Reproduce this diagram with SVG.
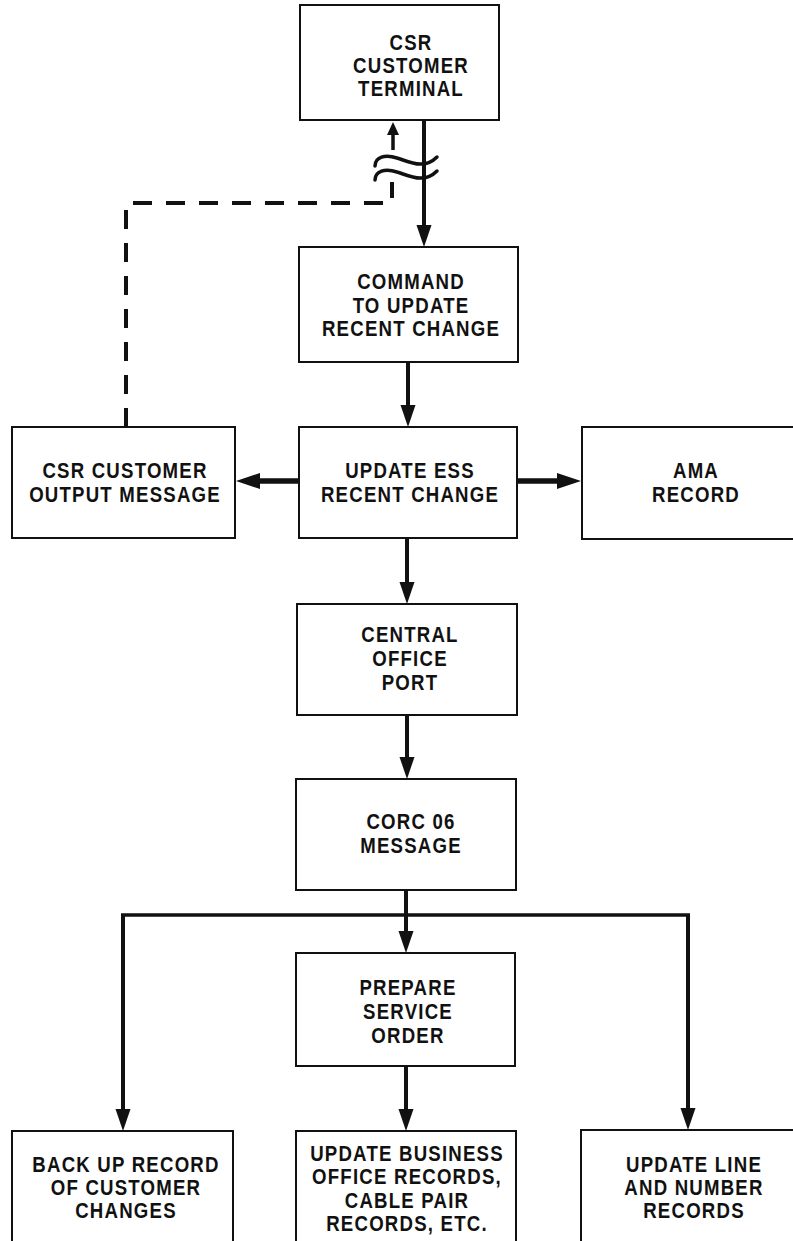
<svg xmlns="http://www.w3.org/2000/svg" width="793" height="1241" viewBox="0 0 793 1241">
  <defs>
    <style>
      .box { fill: #ffffff; stroke: #111111; stroke-width: 2; }
      .t { font-family: "Liberation Sans", Arial, sans-serif; font-weight: bold; font-size: 23px; letter-spacing: 1.5px; fill: #111111; text-anchor: middle; }
      .c { fill: none; stroke: #111111; stroke-width: 4; }
      .thick { fill: none; stroke: #111111; stroke-width: 5.5; }
      .bus { fill: none; stroke: #111111; stroke-width: 3.5; }
      .dash { fill: none; stroke: #111111; stroke-width: 4; stroke-dasharray: 19 14; }
      .wave { fill: none; stroke: #111111; stroke-width: 3.5; stroke-linecap: round; }
    </style>
    <marker id="arr" markerUnits="userSpaceOnUse" markerWidth="24" markerHeight="16" refX="1" refY="8" orient="auto" overflow="visible">
      <path d="M0,0.5 L22,8 L0,15.5 z" fill="#111111"/>
    </marker>
    <marker id="arrh" markerUnits="userSpaceOnUse" markerWidth="26" markerHeight="18" refX="1" refY="9" orient="auto" overflow="visible">
      <path d="M0,1 L24,9 L0,17 z" fill="#111111"/>
    </marker>
    <marker id="arrs" markerUnits="userSpaceOnUse" markerWidth="14" markerHeight="12" refX="1" refY="6" orient="auto" overflow="visible">
      <path d="M0,0 L13,6 L0,12 z" fill="#111111"/>
    </marker>
  </defs>
  <rect x="0" y="0" width="793" height="1241" fill="#ffffff"/>

  <g id="connectors">
    <line class="c" x1="424" y1="120" x2="424" y2="226" marker-end="url(#arr)"/>
    <line class="c" x1="408" y1="362" x2="408" y2="406" marker-end="url(#arr)"/>
    <line class="thick" x1="299" y1="481" x2="259" y2="481" marker-end="url(#arrh)"/>
    <line class="thick" x1="517" y1="481" x2="558" y2="481" marker-end="url(#arrh)"/>
    <line class="c" x1="407" y1="538" x2="407" y2="583" marker-end="url(#arr)"/>
    <line class="c" x1="407" y1="715" x2="407" y2="758" marker-end="url(#arr)"/>
    <line class="c" x1="406" y1="890" x2="406" y2="932" marker-end="url(#arr)"/>
    <line class="bus" x1="121" y1="915" x2="690" y2="915"/>
    <line class="c" x1="123" y1="915" x2="123" y2="1110" marker-end="url(#arr)"/>
    <line class="c" x1="688" y1="915" x2="688" y2="1109" marker-end="url(#arr)"/>
    <line class="c" x1="406" y1="1066" x2="406" y2="1110" marker-end="url(#arr)"/>
    <path class="dash" d="M126,427 V203 H392 V182"/>
    <line x1="393" y1="150" x2="393" y2="134" stroke="#111111" stroke-width="3.5" marker-end="url(#arrs)"/>
    <path class="wave" d="M375,166 C375,157 385,154 397,158 C410,162 424,170 437,157"/>
    <path class="wave" d="M375,180 C375,171 385,168 397,172 C410,176 424,184 437,171"/>
  </g>

  <g id="n-terminal">
    <rect class="box" x="300" y="5" width="199" height="115"/>
    <text class="t" transform="translate(411,50) scale(0.81,1)">CSR</text>
    <text class="t" transform="translate(411,73) scale(0.81,1)">CUSTOMER</text>
    <text class="t" transform="translate(411,96) scale(0.81,1)">TERMINAL</text>
  </g>
  <g id="n-command">
    <rect class="box" x="299" y="247" width="219" height="115"/>
    <text class="t" transform="translate(411,289) scale(0.81,1)">COMMAND</text>
    <text class="t" transform="translate(411,313) scale(0.81,1)">TO UPDATE</text>
    <text class="t" transform="translate(411,336) scale(0.81,1)">RECENT CHANGE</text>
  </g>
  <g id="n-csr-output">
    <rect class="box" x="12" y="427" width="223" height="111"/>
    <text class="t" transform="translate(125,478) scale(0.81,1)">CSR CUSTOMER</text>
    <text class="t" transform="translate(125,502) scale(0.81,1)">OUTPUT MESSAGE</text>
  </g>
  <g id="n-update-ess">
    <rect class="box" x="299" y="427" width="218" height="111"/>
    <text class="t" transform="translate(410,478) scale(0.81,1)">UPDATE ESS</text>
    <text class="t" transform="translate(410,502) scale(0.81,1)">RECENT CHANGE</text>
  </g>
  <g id="n-ama">
    <rect class="box" x="582" y="427" width="230" height="112"/>
    <text class="t" transform="translate(696,478) scale(0.81,1)">AMA</text>
    <text class="t" transform="translate(696,502) scale(0.81,1)">RECORD</text>
  </g>
  <g id="n-central">
    <rect class="box" x="297" y="604" width="220" height="111"/>
    <text class="t" transform="translate(410,642) scale(0.81,1)">CENTRAL</text>
    <text class="t" transform="translate(410,666) scale(0.81,1)">OFFICE</text>
    <text class="t" transform="translate(410,690) scale(0.81,1)">PORT</text>
  </g>
  <g id="n-corc">
    <rect class="box" x="296" y="779" width="220" height="111"/>
    <text class="t" transform="translate(411,829) scale(0.81,1)">CORC 06</text>
    <text class="t" transform="translate(411,853) scale(0.81,1)">MESSAGE</text>
  </g>
  <g id="n-prepare">
    <rect class="box" x="296" y="953" width="219" height="113"/>
    <text class="t" transform="translate(408,995) scale(0.81,1)">PREPARE</text>
    <text class="t" transform="translate(408,1019) scale(0.81,1)">SERVICE</text>
    <text class="t" transform="translate(408,1043) scale(0.81,1)">ORDER</text>
  </g>
  <g id="n-backup">
    <rect class="box" x="12" y="1131" width="221" height="120"/>
    <text class="t" transform="translate(126,1172) scale(0.81,1)">BACK UP RECORD</text>
    <text class="t" transform="translate(126,1195) scale(0.81,1)">OF CUSTOMER</text>
    <text class="t" transform="translate(126,1218) scale(0.81,1)">CHANGES</text>
  </g>
  <g id="n-business">
    <rect class="box" x="296" y="1131" width="220" height="120"/>
    <text class="t" transform="translate(407,1161) scale(0.81,1)">UPDATE BUSINESS</text>
    <text class="t" transform="translate(407,1184) scale(0.81,1)">OFFICE RECORDS,</text>
    <text class="t" transform="translate(407,1208) scale(0.81,1)">CABLE PAIR</text>
    <text class="t" transform="translate(407,1231) scale(0.81,1)">RECORDS, ETC.</text>
  </g>
  <g id="n-line-number">
    <rect class="box" x="581" y="1130" width="230" height="121"/>
    <text class="t" transform="translate(694,1172) scale(0.81,1)">UPDATE LINE</text>
    <text class="t" transform="translate(694,1195) scale(0.81,1)">AND NUMBER</text>
    <text class="t" transform="translate(694,1218) scale(0.81,1)">RECORDS</text>
  </g>
</svg>
